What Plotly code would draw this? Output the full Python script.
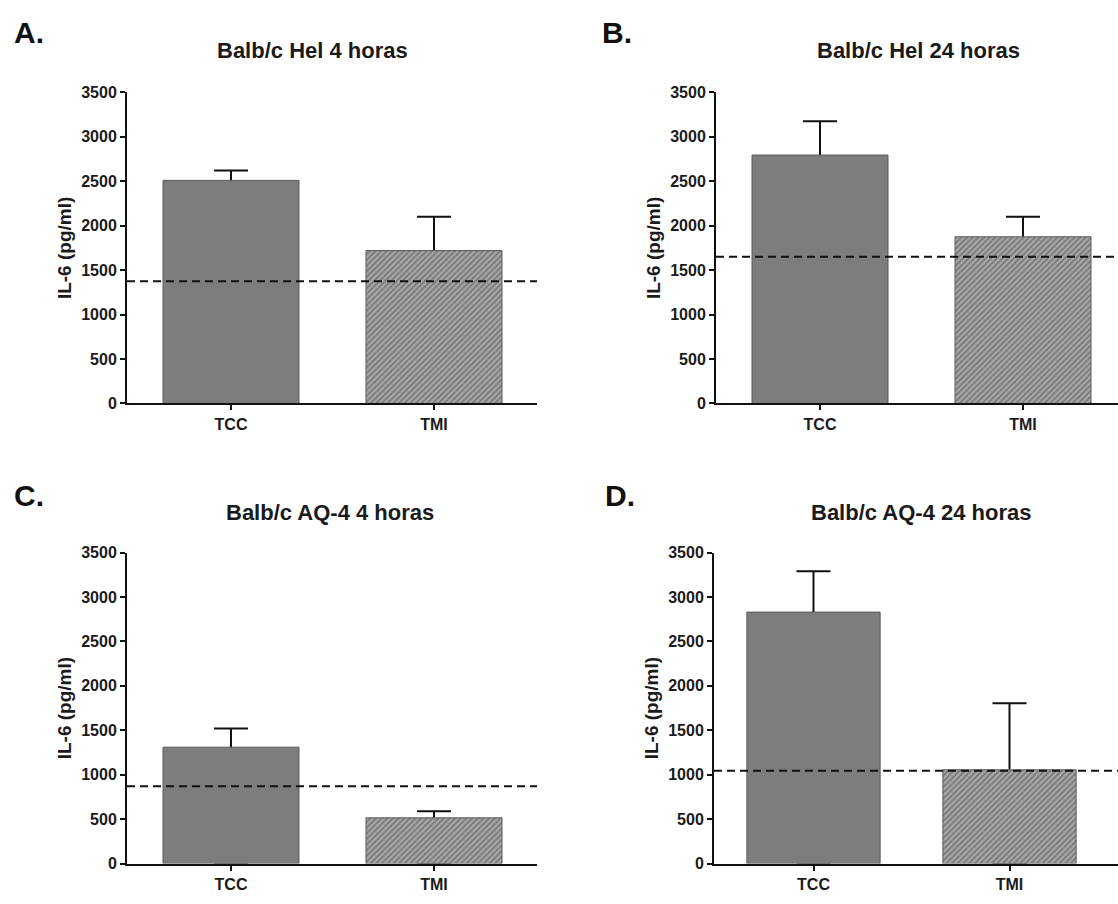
import plotly.graph_objects as go

W, H = 1118, 904

categories = ["TCC", "TMI"]
panel_letters = ["A.", "B.", "C.", "D."]
titles = ["Balb/c Hel 4 horas", "Balb/c Hel 24 horas",
          "Balb/c AQ-4 4 horas", "Balb/c AQ-4 24 horas"]
means_A = [2510, 1720]
sem_A = [110, 380]
means_B = [2795, 1875]
sem_B = [380, 225]
means_C = [1310, 515]
sem_C = [210, 75]
means_D = [2830, 1055]
sem_D = [460, 750]
baselines = [1375, 1650, 870, 1045]
y_ticks = [0, 500, 1000, 1500, 2000, 2500, 3000, 3500]
y_title = "IL-6 (pg/ml)"

means = [means_A, means_B, means_C, means_D]
sems = [sem_A, sem_B, sem_C, sem_D]

FONT = "Liberation Sans, Arial, sans-serif"

# pixel geometry of each panel: (x_left, x_right, y_zero, y_top, px per category, bar width)
geo = [
    (127, 537, 403, 86, 203.0, 0.67),
    (716, 1118, 403, 86, 203.0, 0.67),
    (127, 537, 872, 555, 203.0, 0.67),
    (714, 1118, 872, 555, 196.0, 0.68),
]
title_cx = [312, 918, 330, 921]
title_dy = [43, 43, 41, 41]
letter_dy = [61, 61, 58, 58]
letter_x = [12, 600, 12, 603]

fig = go.Figure()
layout = dict(
    width=W, height=H, margin=dict(l=0, r=0, t=0, b=0),
    paper_bgcolor="white", plot_bgcolor="white",
    barmode="overlay", showlegend=False,
    font=dict(family=FONT, color="#1a1a1a"),
    annotations=[], shapes=[],
)

for i in range(4):
    xl, xr, y0, yt, ppc, bw = geo[i]
    sfx = "" if i == 0 else str(i + 1)
    xa, ya = "x" + sfx, "y" + sfx
    # error bars (drawn beneath the bars, whisker only shows above the bar)
    fig.add_trace(go.Bar(
        x=categories, y=means[i], xaxis=xa, yaxis=ya, width=bw,
        marker=dict(color="rgba(0,0,0,0)", line=dict(width=0)),
        error_y=dict(type="data", symmetric=False, array=sems[i],
                     arrayminus=means[i], width=17, thickness=2, color="#111"),
        hoverinfo="skip",
    ))
    fig.add_trace(go.Bar(
        x=categories, y=means[i], xaxis=xa, yaxis=ya, width=bw,
        marker=dict(
            color=["#7d7d7d", "#a8a8a8"],
            line=dict(color="#5a5a5a", width=1),
            pattern=dict(shape=["", "/"], fgcolor="#4a4a4a",
                         bgcolor=["#7d7d7d", "#dedede"], size=4, solidity=0.45),
        ),
    ))
    x_start = -(104.0 if i < 3 else 99.5) / ppc
    x_end = x_start + (xr - xl) / ppc
    layout["xaxis" + sfx] = dict(
        domain=[xl / W, xr / W], anchor=ya, range=[x_start, x_end],
        showline=True, linecolor="#111", linewidth=2,
        ticks="outside", ticklen=5, tickwidth=2, tickcolor="#111",
        tickfont=dict(family=FONT, size=16, weight="bold", color="#1a1a1a"),
        showgrid=False, zeroline=False, fixedrange=True,
    )
    layout["yaxis" + sfx] = dict(
        domain=[1 - y0 / H, 1 - yt / H], anchor=xa, range=[0, 3500],
        tickvals=y_ticks,
        showline=True, linecolor="#111", linewidth=2,
        ticks="outside", ticklen=5, tickwidth=2, tickcolor="#111",
        tickfont=dict(family=FONT, size=16, weight="bold", color="#1a1a1a"),
        title=dict(text=y_title, standoff=5,
                   font=dict(family=FONT, size=19, weight="bold", color="#1a1a1a")),
        showgrid=False, zeroline=False, fixedrange=True,
    )
    # dashed reference line
    layout["shapes"].append(dict(
        type="line", xref=xa + " domain", yref=ya, x0=0, x1=1,
        y0=baselines[i], y1=baselines[i],
        line=dict(color="#111", width=2, dash="8px,5px"),
    ))
    # panel title
    layout["annotations"].append(dict(
        text=titles[i], xref="paper", yref="paper",
        x=title_cx[i] / W, y=1 - (yt - title_dy[i]) / H,
        xanchor="center", yanchor="middle", showarrow=False,
        font=dict(family=FONT, size=22, weight="bold", color="#1a1a1a"),
    ))
    # panel letter
    layout["annotations"].append(dict(
        text=panel_letters[i], xref="paper", yref="paper",
        x=letter_x[i] / W, y=1 - (yt - letter_dy[i]) / H,
        xanchor="left", yanchor="middle", showarrow=False,
        font=dict(family=FONT, size=30, weight="bold", color="#111"),
    ))

fig.update_layout(**layout)
fig.write_html("out.html")
